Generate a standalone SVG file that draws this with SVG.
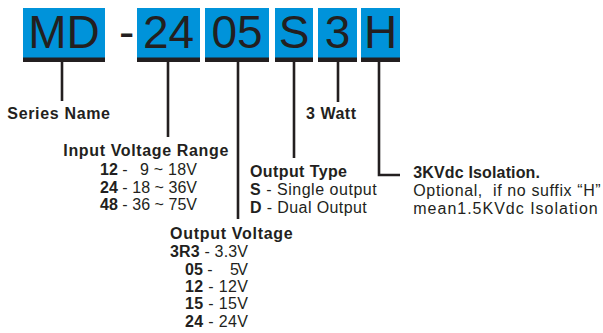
<svg xmlns="http://www.w3.org/2000/svg" width="603" height="333" viewBox="0 0 603 333">
<style>
.box{fill:#0093DA}
.bar{fill:#231f20}
.big{font-family:"Liberation Sans",Arial,sans-serif;font-size:46px;fill:#231f20;text-anchor:middle}
.t{font-family:"Liberation Sans",Arial,sans-serif;font-size:16px;fill:#231f20}
.b{font-weight:bold}
.ln{stroke:#231f20;stroke-width:2.6;fill:none}
</style>
<rect width="603" height="333" fill="#ffffff"/>
<g id="code-md"><rect class="box" x="23" y="8" width="82" height="50"/><rect class="bar" x="23" y="57.5" width="82" height="4.5"/><text class="big" x="64" y="48">MD</text></g>
<g id="dash"><text class="big" x="119" y="48" style="text-anchor:start">-</text></g>
<g id="code-24"><rect class="box" x="137" y="8" width="63" height="50"/><rect class="bar" x="137" y="57.5" width="63" height="4.5"/><text class="big" x="168.5" y="48">24</text></g>
<g id="code-05"><rect class="box" x="205" y="8" width="64" height="50"/><rect class="bar" x="205" y="57.5" width="64" height="4.5"/><text class="big" x="237" y="48">05</text></g>
<g id="code-s"><rect class="box" x="275" y="8" width="38" height="50"/><rect class="bar" x="275" y="57.5" width="38" height="4.5"/><text class="big" x="294" y="48">S</text></g>
<g id="code-3"><rect class="box" x="318" y="8" width="39" height="50"/><rect class="bar" x="318" y="57.5" width="39" height="4.5"/><text class="big" x="337.5" y="48">3</text></g>
<g id="code-h"><rect class="box" x="361" y="8" width="39" height="50"/><rect class="bar" x="361" y="57.5" width="39" height="4.5"/><text class="big" x="380.5" y="48">H</text></g>
<g id="connectors">
<line class="ln" x1="62" y1="62" x2="62" y2="101"/>
<line class="ln" x1="168" y1="62" x2="168" y2="137"/>
<line class="ln" x1="238" y1="62" x2="238" y2="219"/>
<line class="ln" x1="294" y1="62" x2="294" y2="158"/>
<line class="ln" x1="338" y1="62" x2="338" y2="102"/>
<polyline class="ln" points="379,62 379,175 400,175"/>
</g>
<g id="label-series"><text class="t b" x="7.3" y="119" textLength="102.7" lengthAdjust="spacing">Series Name</text></g>
<g id="label-watt"><text class="t b" x="306" y="119" textLength="50" lengthAdjust="spacing">3 Watt</text></g>
<g id="label-input">
<text class="t b" x="63.3" y="155.7" textLength="165" lengthAdjust="spacing">Input Voltage Range</text>
<text class="t" x="100" y="175"><tspan class="b">12</tspan> -</text>
<text class="t" x="140" y="175" textLength="57" lengthAdjust="spacing">9 ~ 18V</text>
<text class="t" x="100" y="192.5" textLength="97" lengthAdjust="spacing"><tspan class="b">24</tspan> - 18 ~ 36V</text>
<text class="t" x="100" y="210" textLength="97" lengthAdjust="spacing"><tspan class="b">48</tspan> - 36 ~ 75V</text>
</g>
<g id="label-type">
<text class="t b" x="250" y="176.7" textLength="97" lengthAdjust="spacing">Output Type</text>
<text class="t" x="250" y="194.5" textLength="126.7" lengthAdjust="spacing"><tspan class="b">S</tspan> - Single output</text>
<text class="t" x="250" y="212.5" textLength="116.7" lengthAdjust="spacing"><tspan class="b">D</tspan> - Dual Output</text>
</g>
<g id="label-output">
<text class="t b" x="170" y="238.5" textLength="122.7" lengthAdjust="spacing">Output Voltage</text>
<text class="t" x="170" y="256.5" textLength="78" lengthAdjust="spacing"><tspan class="b">3R3</tspan> - 3.3V</text>
<text class="t" x="185" y="274.5"><tspan class="b">05</tspan> -</text>
<text class="t" x="230" y="274.5" textLength="18" lengthAdjust="spacing">5V</text>
<text class="t" x="185" y="292" textLength="63" lengthAdjust="spacing"><tspan class="b">12</tspan> - 12V</text>
<text class="t" x="185" y="309.2" textLength="63" lengthAdjust="spacing"><tspan class="b">15</tspan> - 15V</text>
<text class="t" x="185" y="326.5" textLength="63" lengthAdjust="spacing"><tspan class="b">24</tspan> - 24V</text>
</g>
<g id="label-isolation">
<text class="t b" x="413.3" y="178.3" textLength="126.7" lengthAdjust="spacing">3KVdc Isolation.</text>
<text class="t" x="413.3" y="196" textLength="187.4" lengthAdjust="spacing" xml:space="preserve">Optional,  if no suffix “H”</text>
<text class="t" x="413.3" y="213.5" textLength="184.4" lengthAdjust="spacing">mean1.5KVdc Isolation</text>
</g>
</svg>
